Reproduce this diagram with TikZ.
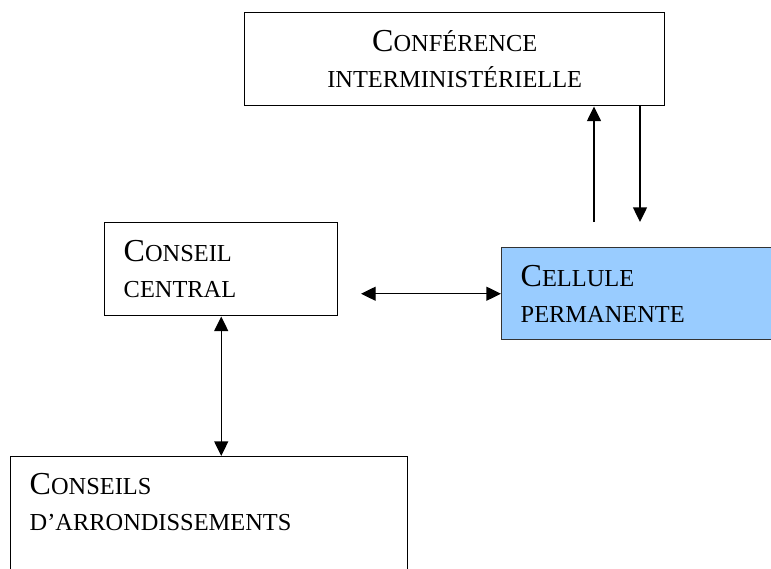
\documentclass[tikz,border=0pt]{standalone}
\usepackage{fontspec}
\setmainfont{Liberation Serif}
\usetikzlibrary{arrows.meta}
\definecolor{celeste}{HTML}{99CCFF}
\newcommand\petite{\fontsize{18.3}{27.2}\selectfont}
\newcommand\grande[1]{{\fontsize{24}{27.2}\selectfont #1}}
\tikzset{
  cadre/.style={draw, line width=1.1pt, rectangle, inner sep=0pt, node font=\petite, anchor=north west},
  gauche/.style={align=left, inner xsep=14.25pt},
  fleche/.style={line width=1pt, -{Triangle[length=11pt,width=10.5pt]}},
  doublefleche/.style={line width=1pt, {Triangle[length=11pt,width=10.5pt]}-{Triangle[length=11pt,width=10.5pt]}},
}
\begin{document}
\begin{tikzpicture}[x=0.75pt, y=-0.75pt]
  \useasboundingbox (0,0) rectangle (771,568);
  \node[cadre, align=center, minimum width=315pt, minimum height=69.75pt] (conf) at (244,12) {\grande{C}ONFÉRENCE\\ INTERMINISTÉRIELLE};
  \node[cadre, gauche, text width=146.25pt, minimum height=69.75pt] (cons) at (104,222) {\grande{C}ONSEIL\\ CENTRAL};
  \node[cadre, gauche, fill=celeste, draw=black!80, text width=189pt, minimum height=69pt] (cell) at (501,247) {\grande{C}ELLULE\\ PERMANENTE};
  \node[cadre, gauche, text width=269.25pt, inner ysep=12.5pt, text depth=60pt] (arr) at (10,456) {\grande{C}ONSEILS\\ D’ARRONDISSEMENTS};
  % extremites libres des fleches
  \coordinate (montee) at (594,222);
  \coordinate (descente) at (640,222);
  \coordinate (liaison) at (361,293);
  \draw[fleche] (montee) -- (montee |- conf.south);
  \draw[fleche] (conf.south -| descente) -- (descente);
  \draw[doublefleche] (cell.west -| liaison) -- (cell.west);
  \draw[doublefleche] (cons.south) -- (cons.south |- arr.north);
\end{tikzpicture}
\end{document}
